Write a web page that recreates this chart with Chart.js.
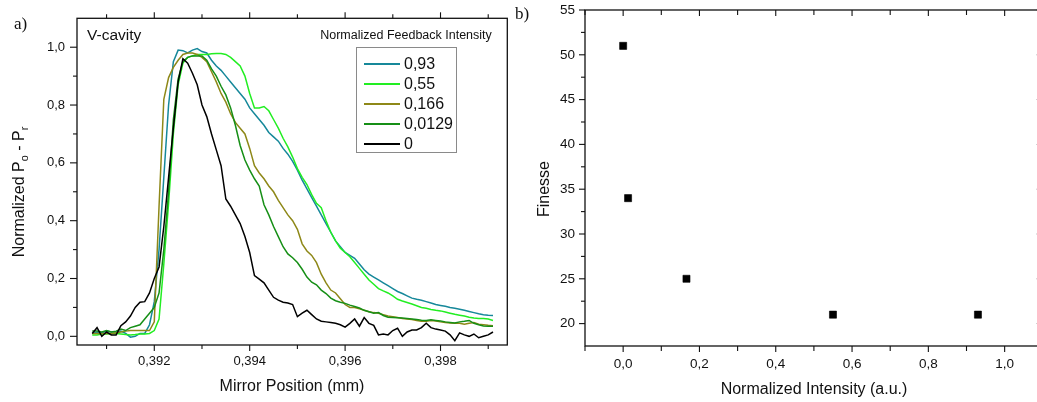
<!DOCTYPE html>
<html><head><meta charset="utf-8">
<script src="https://cdn.jsdelivr.net/npm/chart.js@4.4.1/dist/chart.umd.min.js"></script>
<style>
html,body{margin:0;padding:0;background:#fff;overflow:hidden;width:1037px;height:402px;}
#wrap{position:relative;width:1037px;height:402px;overflow:hidden;background:#fff;}
canvas{position:absolute;top:0;}
#c1{left:0;}
#c2{left:505px;}
</style></head><body>
<div id="wrap">
<canvas id="c1" width="520" height="402"></canvas>
<canvas id="c2" width="545" height="402"></canvas>
</div>
<script>
// ---------------- DATA: panel a ----------------
const posMM = [0.3907,0.3908,0.3909,0.3910,0.3911,0.3912,0.3913,0.3914,0.3915,0.3916,
0.3917,0.3918,0.3919,0.3920,0.3921,0.3922,0.3923,0.3924,0.3925,0.3926,
0.3927,0.3928,0.3929,0.3930,0.3931,0.3932,0.3933,0.3934,0.3935,0.3936,
0.3937,0.3938,0.3939,0.3940,0.3941,0.3942,0.3943,0.3944,0.3945,0.3946,
0.3947,0.3948,0.3949,0.3950,0.3951,0.3952,0.3953,0.3954,0.3955,0.3956,
0.3957,0.3958,0.3959,0.3960,0.3961,0.3962,0.3963,0.3964,0.3965,0.3966,
0.3967,0.3968,0.3969,0.3970,0.3971,0.3972,0.3973,0.3974,0.3975,0.3976,
0.3977,0.3978,0.3979,0.3980,0.3981,0.3982,0.3983,0.3984,0.3985,0.3986,
0.3987,0.3988,0.3989,0.3990,0.3991];

const norm093 = [0.01,0.015,0.012,0.018,0.015,0.015,0.018,0.01,-0.003,0.0,0.01,0.01,0.04,
0.12,0.3,0.55,0.8,0.95,0.99,0.988,0.98,0.99,0.995,0.985,0.98,
0.955,0.935,0.92,0.9,0.88,0.86,0.84,0.82,0.79,0.77,0.75,0.73,0.705,0.69,0.675,0.65,0.63,0.605,0.575,0.54,0.51,0.48,0.45,0.42,0.39,0.36,
0.33,0.31,0.29,0.28,0.27,0.25,0.23,0.215,0.205,0.195,0.185,0.175,0.165,0.155,0.148,0.14,0.132,0.128,0.125,0.12,0.115,0.11,0.107,0.104,0.1,0.097,0.094,0.09,0.086,0.082,0.078,0.075,0.073,0.072];

const norm055 = [0.005,0.005,0.008,0.008,0.01,0.01,0.008,0.006,0.005,0.006,0.008,0.008,0.01,
0.02,0.06,0.25,0.46,0.7,0.87,0.945,0.965,0.97,0.975,0.975,0.975,
0.977,0.978,0.978,0.975,0.965,0.95,0.935,0.9,0.84,0.79,0.79,0.795,0.78,0.75,0.72,0.685,0.655,0.62,0.58,0.55,0.525,0.49,0.46,0.445,0.40,0.36,
0.33,0.305,0.29,0.275,0.255,0.235,0.215,0.195,0.18,0.165,0.157,0.15,0.14,0.128,0.122,0.117,0.112,0.106,0.1,0.097,0.093,0.09,0.088,0.084,0.08,0.076,0.073,0.07,0.066,0.063,0.062,0.062,0.06,0.055];

const norm0166 = [0.01,0.01,0.01,0.01,0.01,0.012,0.015,0.018,0.02,0.02,0.02,0.02,0.02,
0.05,0.45,0.82,0.895,0.93,0.955,0.975,0.98,0.98,0.975,0.965,0.95,
0.915,0.88,0.84,0.81,0.77,0.74,0.72,0.70,0.65,0.59,0.565,0.545,0.52,0.5,0.47,0.445,0.42,0.40,0.37,0.32,0.295,0.28,0.255,0.215,0.185,0.16,
0.15,0.13,0.11,0.1,0.1,0.095,0.09,0.085,0.082,0.08,0.075,0.07,0.068,0.065,0.062,0.06,0.058,0.055,0.052,0.052,0.055,0.053,0.05,0.048,0.046,0.045,0.045,0.042,0.045,0.048,0.042,0.04,0.038,0.037];

const norm00129 = [0.018,0.018,0.015,0.02,0.015,0.018,0.025,0.02,0.03,0.035,0.04,0.06,0.08,
0.1,0.15,0.3,0.5,0.75,0.89,0.95,0.965,0.97,0.97,0.97,0.955,
0.925,0.9,0.865,0.835,0.79,0.73,0.66,0.61,0.575,0.545,0.52,0.455,0.42,0.38,0.345,0.31,0.285,0.272,0.255,0.232,0.205,0.187,0.178,0.16,0.148,0.132,
0.123,0.118,0.114,0.108,0.103,0.098,0.09,0.085,0.08,0.082,0.072,0.066,0.065,0.064,0.063,0.062,0.06,0.058,0.056,0.055,0.057,0.055,0.053,0.05,0.048,0.046,0.05,0.052,0.055,0.045,0.04,0.036,0.035,0.035];

const norm0 = [0.01,0.03,0.0,0.015,0.005,0.005,0.037,0.05,0.07,0.1,0.118,0.12,0.15,0.2,0.24,
0.38,0.55,0.72,0.88,0.96,0.945,0.91,0.87,0.80,0.76,
0.70,0.645,0.59,0.475,0.45,0.42,0.39,0.345,0.29,0.21,
0.198,0.185,0.16,0.135,0.125,0.118,0.115,0.11,0.068,0.08,
0.09,0.075,0.06,0.052,0.05,0.048,0.045,0.04,0.032,0.045,
0.06,0.035,0.065,0.045,0.038,0.005,0.008,0.005,0.02,0.028,
0.0,0.015,0.022,0.022,0.03,0.045,0.03,0.025,0.022,0.018,
0.005,-0.015,0.012,0.005,0.0,0.008,-0.005,0.0,0.005,0.015];

const feedbackLabels = ['0,93','0,55','0,166','0,0129','0'];
const feedbackColors = ['#16889a','#22ee22','#8e8818','#168f16','#000000'];

// ---------------- DATA: panel b ----------------
const intensity = [0, 0.0129, 0.166, 0.55, 0.93];
const finesse = [51, 34, 25, 21, 21];

// ---------------- TICKS ----------------
const aXMajor = [0.392,0.394,0.396,0.398];
const aXMinor = [0.391,0.393,0.395,0.397,0.399];
const aYMajor = [0,0.2,0.4,0.6,0.8,1.0];
const aYMinor = [0.1,0.3,0.5,0.7,0.9];
const bXMajor = [0,0.2,0.4,0.6,0.8,1.0];
const bXMinor = [-0.1,0.1,0.3,0.5,0.7,0.9,1.1];
const bYMajor = [20,25,30,35,40,45,50,55];
const bYMinor = [22.5,27.5,32.5,37.5,42.5,47.5,52.5];

const SANS = "'Liberation Sans', Arial, sans-serif";
const SERIF = "'Liberation Serif', 'Times New Roman', serif";
Chart.defaults.font.family = SANS;
Chart.defaults.color = '#111';

function comma(v, d){ return v.toFixed(d).replace('.', ','); }

function drawRich(ctx, parts, x, y, rot, size, family) {
  ctx.save();
  ctx.translate(x, y); ctx.rotate(rot);
  let w = 0;
  parts.forEach(p => { ctx.font = (p.sub ? size*0.68 : size) + 'px ' + family; p.w = ctx.measureText(p.t).width; w += p.w; });
  let cx = -w/2;
  ctx.textAlign = 'left'; ctx.textBaseline = 'alphabetic'; ctx.fillStyle = '#111';
  parts.forEach(p => {
    ctx.font = (p.sub ? size*0.68 : size) + 'px ' + family;
    ctx.fillText(p.t, cx, size*0.36 + (p.sub ? size*0.28 : 0));
    cx += p.w;
  });
  ctx.restore();
}

const deco = {
  id: 'deco',
  afterDraw(chart, args, o) {
    const ctx = chart.ctx, ca = chart.chartArea;
    const xs = chart.scales.x, ys = chart.scales.y;
    ctx.save();
    ctx.strokeStyle = '#111';
    ctx.lineWidth = 1.3;
    ctx.strokeRect(ca.left, ca.top, ca.right - ca.left, ca.bottom - ca.top);
    ctx.lineWidth = 1.1;
    (o.tickSets || []).forEach(t => {
      const sc = (t.side === 'bottom' || t.side === 'top') ? xs : ys;
      t.values.forEach(v => {
        const p = sc.getPixelForValue(v);
        ctx.beginPath();
        if (t.side === 'bottom') { ctx.moveTo(p, ca.bottom); ctx.lineTo(p, ca.bottom + t.len); }
        else if (t.side === 'top') { ctx.moveTo(p, ca.top); ctx.lineTo(p, ca.top - t.len); }
        else if (t.side === 'left') { ctx.moveTo(ca.left, p); ctx.lineTo(ca.left - t.len, p); }
        else { ctx.moveTo(ca.right, p); ctx.lineTo(ca.right + t.len, p); }
        ctx.stroke();
      });
    });
    (o.texts || []).forEach(t => {
      if (t.parts) { drawRich(ctx, t.parts, t.x, t.y, t.rot || 0, t.size, t.family || SANS); return; }
      ctx.save();
      ctx.translate(t.x, t.y); ctx.rotate(t.rot || 0);
      ctx.font = t.size + 'px ' + (t.family || SANS);
      ctx.fillStyle = '#111';
      ctx.textAlign = t.align || 'center'; ctx.textBaseline = 'middle';
      ctx.fillText(t.text, 0, 0);
      ctx.restore();
    });
    if (o.legend) {
      const L = o.legend;
      ctx.strokeStyle = '#8a8a8a'; ctx.lineWidth = 1;
      ctx.strokeRect(L.x, L.y, L.w, L.h);
      chart.data.datasets.forEach((ds, i) => {
        const yy = L.rowY + i * L.rowH;
        ctx.strokeStyle = ds.borderColor; ctx.lineWidth = 2;
        ctx.beginPath(); ctx.moveTo(L.lineX0, yy); ctx.lineTo(L.lineX1, yy); ctx.stroke();
        ctx.fillStyle = '#111'; ctx.font = L.size + 'px ' + SANS;
        ctx.textAlign = 'left'; ctx.textBaseline = 'middle';
        ctx.fillText(ds.label, L.textX, yy + 1);
      });
    }
    ctx.restore();
  }
};

function fixAxis(dim, val) {
  return function(scale) {
    scale[dim] = val;
    scale.paddingTop = 0; scale.paddingBottom = 0; scale.paddingLeft = 0; scale.paddingRight = 0;
  };
}

// ---------------- PANEL A ----------------
const seriesA = [norm093, norm055, norm0166, norm00129, norm0];
new Chart(document.getElementById('c1'), {
  type: 'line',
  data: {
    datasets: seriesA.map((arr, i) => ({
      label: feedbackLabels[i],
      data: posMM.map((x, j) => ({x: x, y: arr[j]})),
      borderColor: feedbackColors[i],
      backgroundColor: feedbackColors[i],
      borderWidth: 1.5,
      pointRadius: 0,
      tension: 0,
      order: 4 - i
    }))
  },
  options: {
    responsive: false, animation: false, events: [],
    layout: { padding: { left: 0, right: 12.7, top: 18.3, bottom: 0 } },
    plugins: {
      legend: { display: false }, tooltip: { enabled: false },
      deco: {
        tickSets: [
          { side: 'bottom', values: aXMajor, len: 6 }, { side: 'bottom', values: aXMinor, len: 4 },
          { side: 'top', values: aXMajor, len: 6 }, { side: 'top', values: aXMinor, len: 4 },
          { side: 'left', values: aYMajor, len: 7 }, { side: 'left', values: aYMinor, len: 4 }
        ],
        texts: [
          { text: 'a)', x: 14, y: 25, size: 17, family: SERIF, align: 'left' },
          { text: 'V-cavity', x: 87, y: 36, size: 15.5, align: 'left' },
          { text: 'Normalized Feedback Intensity', x: 406, y: 36, size: 12.5 },
          { text: 'Mirror Position (mm)', x: 292, y: 387, size: 16 },
          { parts: [{t:'Normalized P'},{t:'o',sub:true},{t:' - P'},{t:'r',sub:true}], x: 18, y: 192, rot: -Math.PI/2, size: 16 }
        ],
        legend: { x: 356.5, y: 47.5, w: 100, h: 105, rowY: 64, rowH: 20, lineX0: 364, lineX1: 400, textX: 404, size: 16 }
      }
    },
    scales: {
      x: {
        type: 'linear', min: 0.39038, max: 0.3994,
        grid: { display: false, drawTicks: false }, border: { display: false },
        afterBuildTicks: s => { s.ticks = aXMajor.map(v => ({ value: v })); },
        afterFit: fixAxis('height', 57),
        ticks: { padding: 9, maxRotation: 0, autoSkip: false, font: { size: 13 }, callback: v => comma(v, 3) }
      },
      y: {
        type: 'linear', min: -0.03, max: 1.1,
        grid: { display: false, drawTicks: false }, border: { display: false },
        afterBuildTicks: s => { s.ticks = aYMajor.map(v => ({ value: v })); },
        afterFit: fixAxis('width', 77),
        ticks: { padding: 12, autoSkip: false, font: { size: 13 }, callback: v => comma(v, 1) }
      }
    }
  },
  plugins: [deco]
});

// ---------------- PANEL B ----------------
new Chart(document.getElementById('c2'), {
  type: 'scatter',
  data: {
    datasets: [{
      label: 'Finesse',
      data: intensity.map((x, i) => ({ x: x, y: finesse[i] })),
      pointStyle: 'rect', pointRadius: 5, borderWidth: 0.6,
      backgroundColor: '#000', borderColor: '#000'
    }]
  },
  options: {
    responsive: false, animation: false, events: [],
    layout: { padding: { left: 0, right: 7.2, top: 10, bottom: 0 } },
    plugins: {
      legend: { display: false }, tooltip: { enabled: false },
      deco: {
        tickSets: [
          { side: 'bottom', values: bXMajor, len: 6 }, { side: 'bottom', values: bXMinor, len: 5 },
          { side: 'top', values: bXMajor, len: -6 }, { side: 'top', values: bXMinor, len: -5 },
          { side: 'left', values: bYMajor, len: 6 }, { side: 'left', values: bYMinor, len: 4 },
          { side: 'right', values: bYMajor, len: -6 }, { side: 'right', values: bYMinor, len: -4 }
        ],
        texts: [
          { text: 'b)', x: 10, y: 15, size: 17, family: SERIF, align: 'left' },
          { text: 'Finesse', x: 40, y: 189, size: 16, rot: -Math.PI/2 },
          { text: 'Normalized Intensity (a.u.)', x: 309, y: 390, size: 16 }
        ]
      }
    },
    scales: {
      x: {
        type: 'linear', min: -0.1, max: 1.1,
        grid: { display: false, drawTicks: false }, border: { display: false },
        afterBuildTicks: s => { s.ticks = bXMajor.map(v => ({ value: v })); },
        afterFit: fixAxis('height', 56),
        ticks: { padding: 10, maxRotation: 0, autoSkip: false, font: { size: 13.5 }, callback: v => comma(v, 1) }
      },
      y: {
        type: 'linear', min: 17.5, max: 55,
        grid: { display: false, drawTicks: false }, border: { display: false },
        afterBuildTicks: s => { s.ticks = bYMajor.map(v => ({ value: v })); },
        afterFit: fixAxis('width', 80),
        ticks: { padding: 10, autoSkip: false, font: { size: 13.5 }, callback: v => String(v) }
      }
    }
  },
  plugins: [deco]
});
</script>
</body></html>
